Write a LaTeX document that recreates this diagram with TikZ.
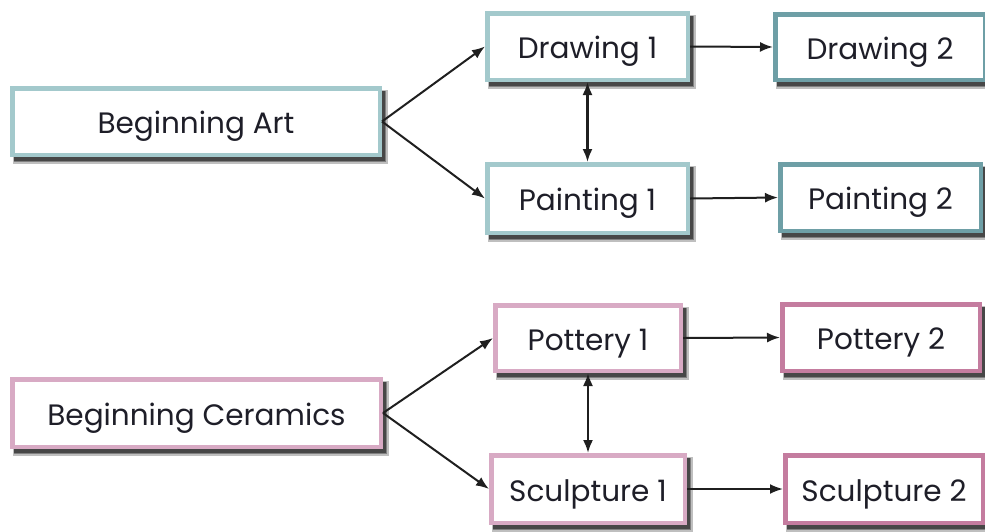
\documentclass[tikz,border=0pt]{standalone}
\usepackage{fontspec}
\setmainfont{Poppins}
\usetikzlibrary{arrows.meta}
\definecolor{tealA}{HTML}{A3C9CC}
\definecolor{tealB}{HTML}{6E9FA6}
\definecolor{pinkA}{HTML}{D8AAC4}
\definecolor{pinkB}{HTML}{C47C9F}
\definecolor{txt}{HTML}{1E1E28}
\tikzset{
  box/.style={draw, line width=4.5pt, fill=white, inner sep=0pt, text=txt,
    font=\fontsize{29.5}{32}\selectfont, text height=26pt, text depth=2pt,
    preaction={draw=black!25, fill=black!25, line width=7pt, transform canvas={shift={(4.5pt,-5.5pt)}}},
    preaction={draw=black!50, fill=black!50, line width=5pt, transform canvas={shift={(4pt,-5pt)}}},
    preaction={draw=black!72, fill=black!72, line width=3pt, transform canvas={shift={(3.5pt,-4.5pt)}}}},
  conn/.style={draw=black!88, line width=2pt, -{Latex[length=13pt,width=10pt]}},
  bconn/.style={draw=black!88, line width=2.2pt, {Latex[length=13pt,width=10pt]}-{Latex[length=13pt,width=10pt]}},
}
\begin{document}
\begin{tikzpicture}[x=1pt,y=-1pt]
\useasboundingbox (0,0) rectangle (985,531);
\node[box, draw=tealA, minimum width=367.5pt, minimum height=66.5pt] (ba) at (196,121.5) {Beginning Art};
\node[box, draw=tealA, minimum width=200.5pt, minimum height=66.5pt] (d1) at (587.5,46.5) {Drawing 1};
\node[box, draw=tealB, minimum width=209.5pt, minimum height=65.5pt] (d2) at (880,47) {Drawing 2};
\node[box, draw=tealA, minimum width=200.5pt, minimum height=68.5pt] (p1) at (587.5,198.5) {Painting 1};
\node[box, draw=tealB, minimum width=200.5pt, minimum height=66.5pt] (p2) at (880.5,197.5) {Painting 2};
\node[box, draw=pinkA, minimum width=368.5pt, minimum height=67.5pt] (bc) at (196.5,413) {Beginning Ceramics};
\node[box, draw=pinkA, minimum width=185.5pt, minimum height=65.5pt] (po1) at (588,338) {Pottery 1};
\node[box, draw=pinkB, minimum width=197.5pt, minimum height=66.5pt] (po2) at (881,337.5) {Pottery 2};
\node[box, draw=pinkA, minimum width=193.5pt, minimum height=67.5pt] (s1) at (588,489) {Sculpture 1};
\node[box, draw=pinkB, minimum width=197.5pt, minimum height=67.5pt] (s2) at (884,489) {Sculpture 2};
\path[conn] (ba.east) -- (d1.west);
\path[conn] (ba.east) -- (p1.west);
\path[conn] (d1.east) -- (d2.west);
\path[conn] (p1.east) -- (p2.west);
\path[bconn] (d1.south) -- (p1.north);
\path[conn] (bc.east) -- (po1.west);
\path[conn] (bc.east) -- (s1.west);
\path[conn] (po1.east) -- (po2.west);
\path[conn] (s1.east) -- (s2.west);
\path[bconn] (po1.south) -- (s1.north);
\end{tikzpicture}
\end{document}
